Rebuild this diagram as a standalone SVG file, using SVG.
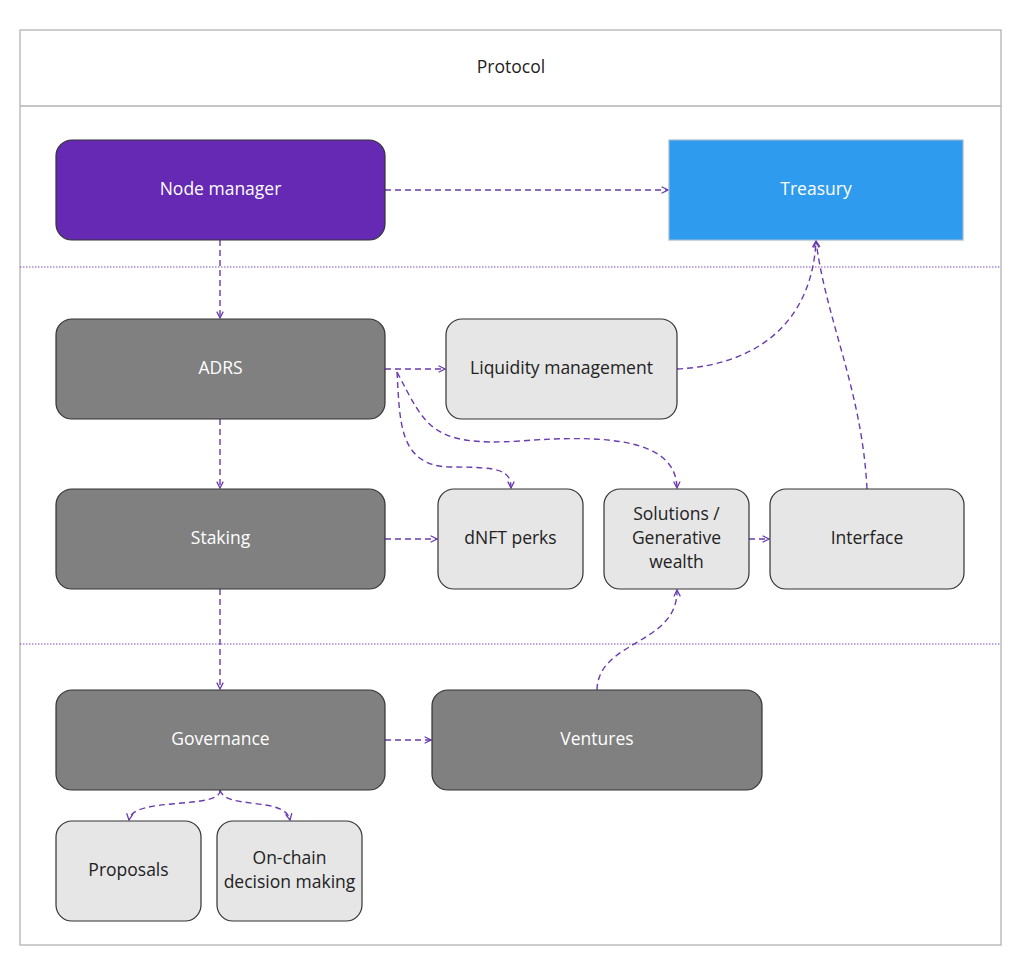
<svg xmlns="http://www.w3.org/2000/svg" width="1026" height="974" viewBox="0 0 1026 974">
<defs>
<marker id="ah" viewBox="0 0 10 10" refX="9" refY="5" markerWidth="8" markerHeight="8" markerUnits="userSpaceOnUse" orient="auto">
<path d="M1,1 L9,5 L1,9" fill="none" stroke="#6a3bb0" stroke-width="1.6"/>
</marker>
</defs>
<style>
.frame{fill:#fff;stroke:#b3b3b3;stroke-width:1.3}
.sep{stroke:#7a4fc0;stroke-width:1;stroke-dasharray:1.5 1.5;fill:none}
.n{stroke:#333;stroke-width:1.2}
.purple{fill:#6529b4}
.blue{fill:#2e9bef;stroke:#9fb9cf;stroke-width:1.2}
.dark{fill:#808080}
.light{fill:#e6e6e6}
text{font-family:"Open Sans","Noto Sans","Liberation Sans",sans-serif;font-size:17.5px;text-anchor:middle;dominant-baseline:central}
.w{fill:#fff}
.k{fill:#222}
.c{fill:none;stroke:#6a3bb0;stroke-width:1.4;stroke-dasharray:6 4;marker-end:url(#ah)}
</style>
<rect x="0" y="0" width="1026" height="974" fill="#fff"/>
<g id="frame">
<rect class="frame" x="20" y="30" width="981" height="915"/>
<line x1="20" y1="106" x2="1001" y2="106" stroke="#b3b3b3" stroke-width="1.3"/>
<text class="k" x="511" y="66">Protocol</text>
<line class="sep" x1="20" y1="267" x2="1001" y2="267"/>
<line class="sep" x1="20" y1="644" x2="1001" y2="644"/>
</g>
<g id="connectors">
<path class="c" d="M385,190 L668,190"/>
<path class="c" d="M220,240 L220,318"/>
<path class="c" d="M385,369 L445,369"/>
<path class="c" d="M397,372 C400,420 398,466 450,467 C500,467 511,470 511,488"/>
<path class="c" d="M397,372 C425,425 430,447 520,441 C610,434 676,440 677,488"/>
<path class="c" d="M677,369 C760,365 812,320 816,241"/>
<path class="c" d="M867,489 C862,390 826,320 816,241"/>
<path class="c" d="M220,419 L220,488"/>
<path class="c" d="M385,539 L437,539"/>
<path class="c" d="M749,539 L769,539"/>
<path class="c" d="M220,589 L220,689"/>
<path class="c" d="M385,740 L431,740"/>
<path class="c" d="M597,690 C598,640 678,645 677,590"/>
<path class="c" d="M220,790 C222,810 132,796 129,820"/>
<path class="c" d="M220,790 C225,810 285,796 290,820"/>
</g>
<g id="node-manager">
<rect class="n purple" x="56" y="140" width="329" height="100" rx="16"/>
<text class="w" x="220.5" y="188">Node manager</text>
</g>
<g id="treasury">
<rect class="blue" x="669" y="140" width="294" height="100"/>
<text class="w" x="816" y="188">Treasury</text>
</g>
<g id="adrs">
<rect class="n dark" x="56" y="319" width="329" height="100" rx="16"/>
<text class="w" x="220.5" y="367">ADRS</text>
</g>
<g id="liquidity">
<rect class="n light" x="446" y="319" width="231" height="100" rx="16"/>
<text class="k" x="561.5" y="367">Liquidity management</text>
</g>
<g id="staking">
<rect class="n dark" x="56" y="489" width="329" height="100" rx="16"/>
<text class="w" x="220.5" y="537">Staking</text>
</g>
<g id="dnft">
<rect class="n light" x="438" y="489" width="145" height="100" rx="16"/>
<text class="k" x="510.5" y="537">dNFT perks</text>
</g>
<g id="solutions">
<rect class="n light" x="604" y="489" width="145" height="100" rx="16"/>
<text class="k" x="676.5" y="513">Solutions /</text>
<text class="k" x="676.5" y="537">Generative</text>
<text class="k" x="676.5" y="561">wealth</text>
</g>
<g id="interface">
<rect class="n light" x="770" y="489" width="194" height="100" rx="16"/>
<text class="k" x="867" y="537">Interface</text>
</g>
<g id="governance">
<rect class="n dark" x="56" y="690" width="329" height="100" rx="16"/>
<text class="w" x="220.5" y="738">Governance</text>
</g>
<g id="ventures">
<rect class="n dark" x="432" y="690" width="330" height="100" rx="16"/>
<text class="w" x="597" y="738">Ventures</text>
</g>
<g id="proposals">
<rect class="n light" x="56" y="821" width="145" height="100" rx="16"/>
<text class="k" x="128.5" y="869">Proposals</text>
</g>
<g id="onchain">
<rect class="n light" x="217" y="821" width="145" height="100" rx="16"/>
<text class="k" x="289.5" y="857">On-chain</text>
<text class="k" x="289.5" y="881">decision making</text>
</g>
</svg>
